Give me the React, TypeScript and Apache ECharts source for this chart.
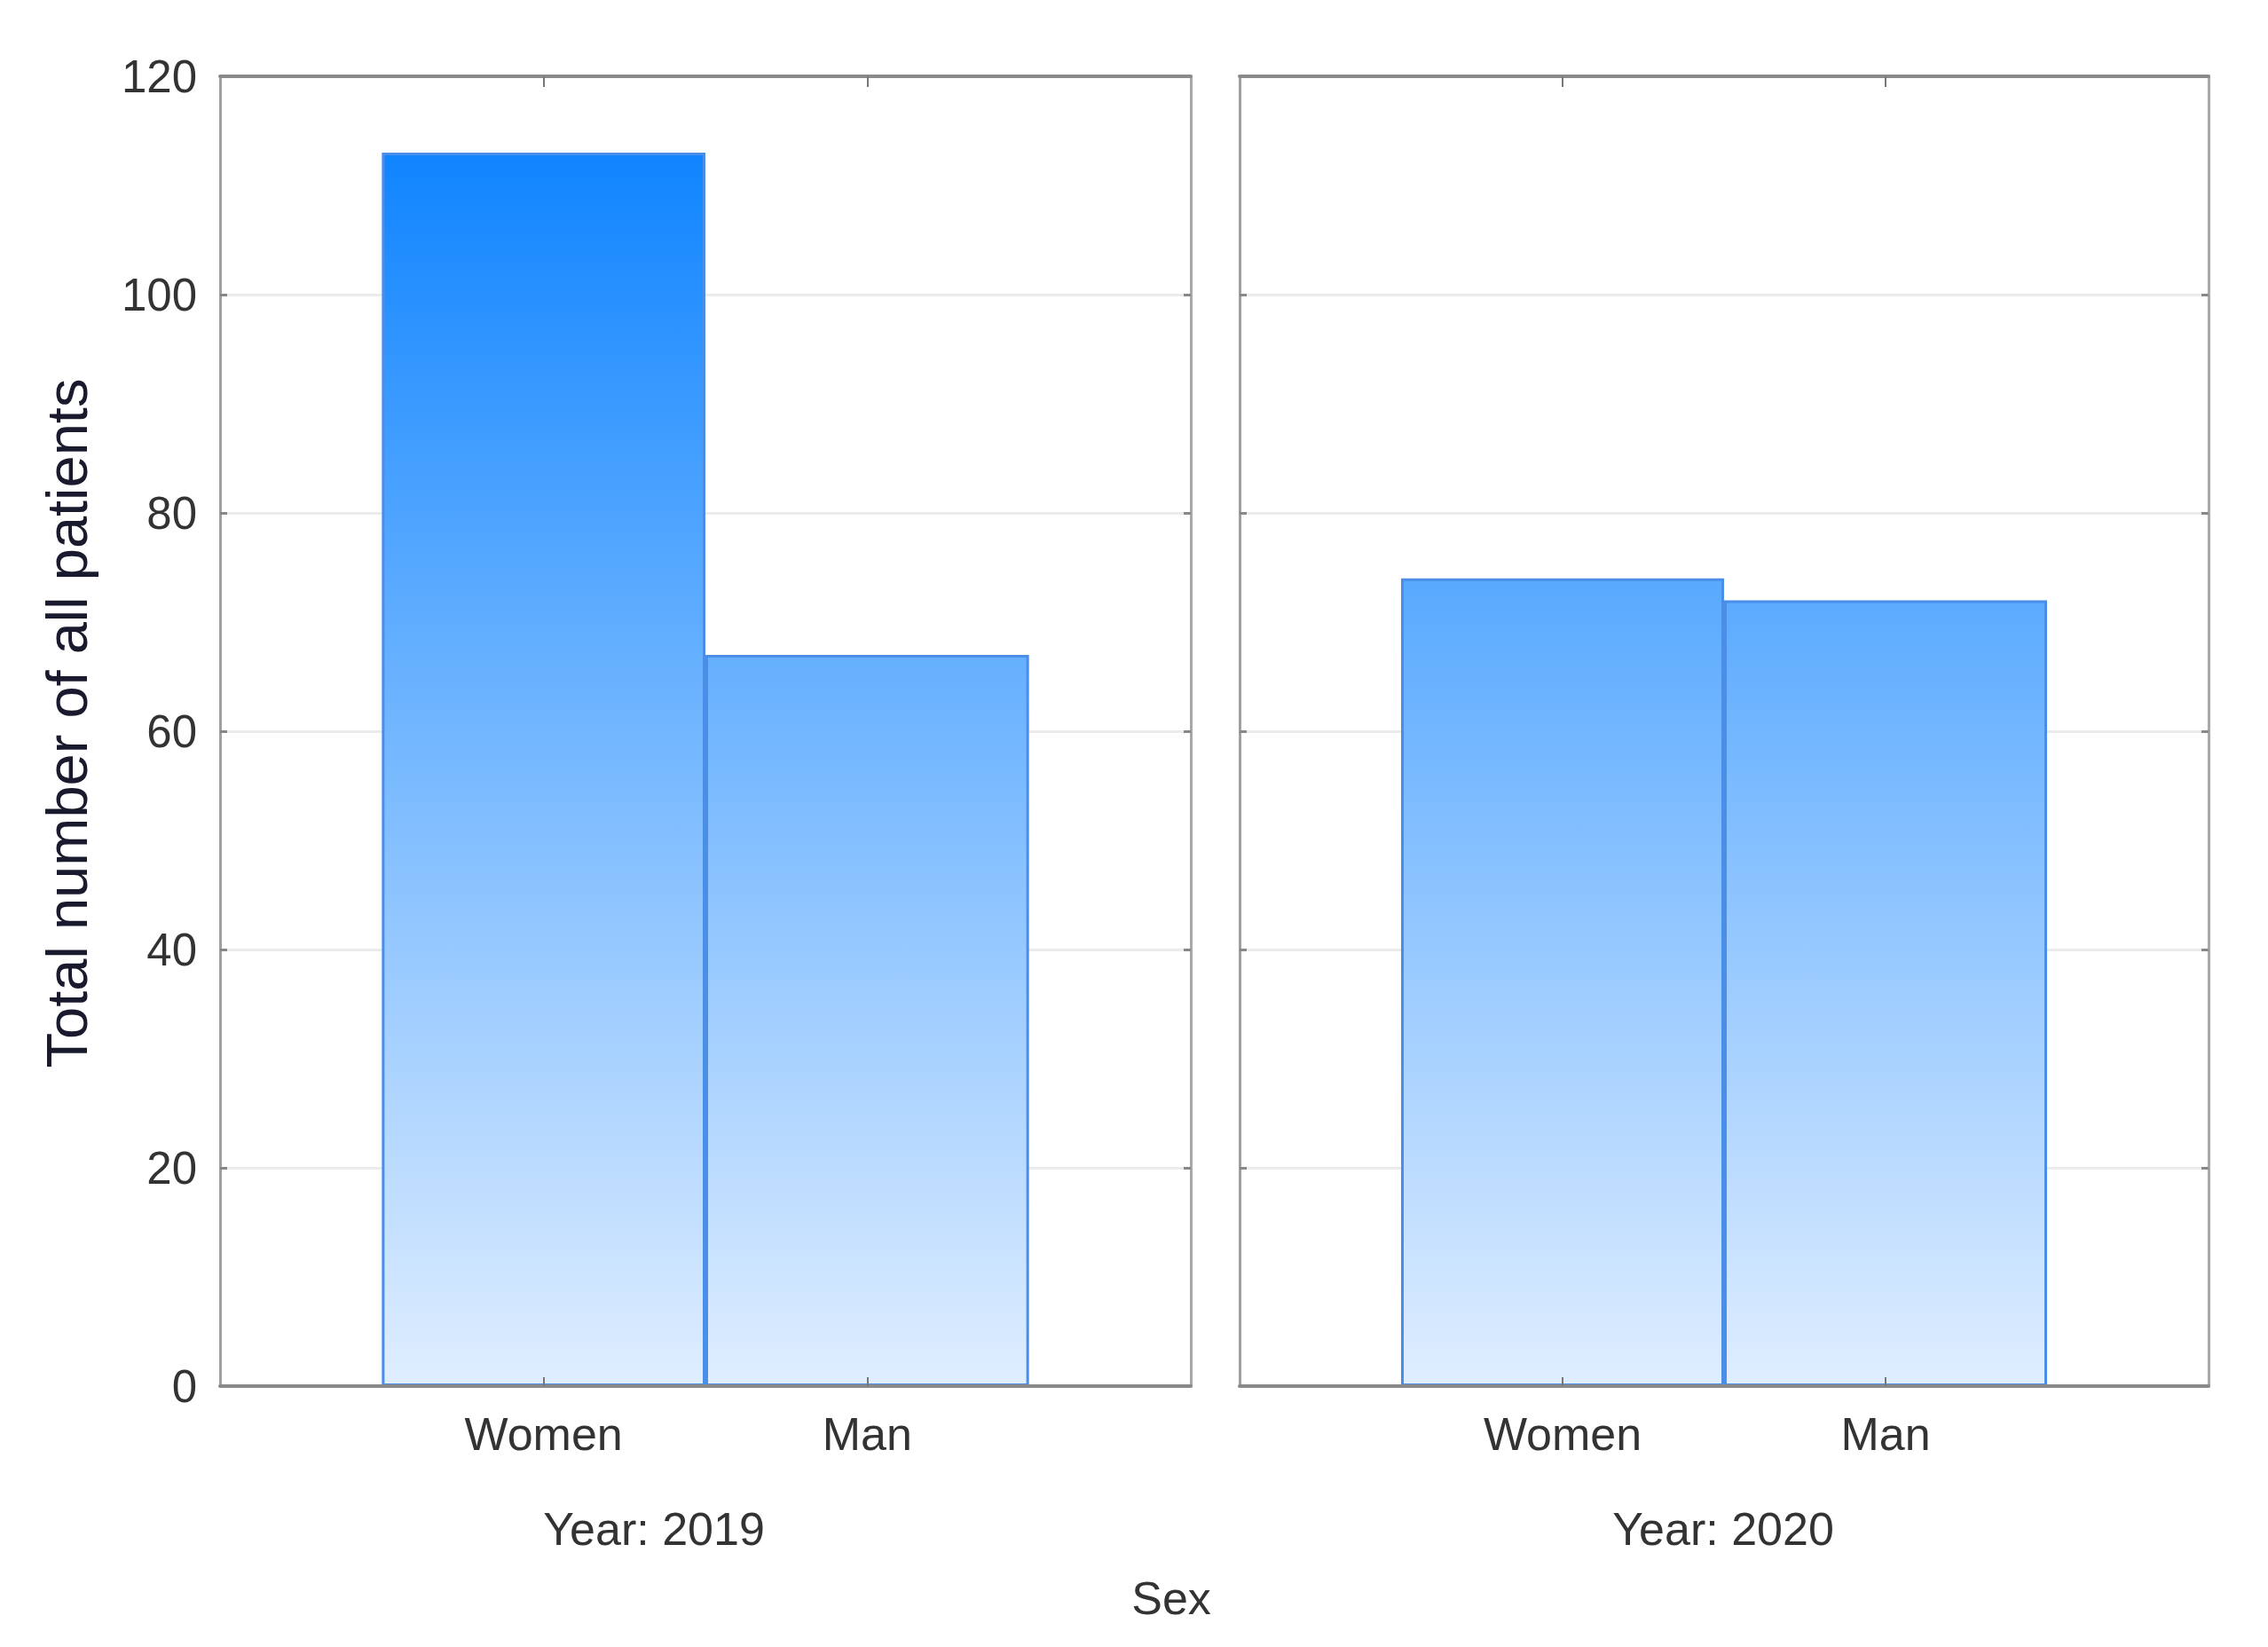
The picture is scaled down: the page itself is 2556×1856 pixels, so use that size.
import React, { useEffect, useRef } from "react";
import * as echarts from "echarts";

const categories = ["Women", "Man"];
const years = ["Year: 2019", "Year: 2020"];
const values2019 = [113, 67];
const values2020 = [74, 72];
const yTicks = [0, 20, 40, 60, 80, 100, 120];
const yTitle = "Total number of all patients";
const xTitle = "Sex";

const FONT = "'Liberation Sans', Arial, sans-serif";

export default function App() {
  const ref = useRef<HTMLDivElement>(null);
  useEffect(() => {
    if (!ref.current) return;
    const chart = echarts.init(ref.current, undefined, { renderer: "svg" });
    const top = 86;
    const height = 1476;
    const grids = [
      { left: 248, top, width: 1094, height },
      { left: 1397, top, width: 1092, height },
    ];
    const yMin = yTicks[0];
    const yMax = yTicks[yTicks.length - 1];
    const yInterval = yTicks[1] - yTicks[0];
    const grad = new echarts.graphic.LinearGradient(
      0,
      top,
      0,
      top + height,
      [
        { offset: 0, color: "#037eff" },
        { offset: 1, color: "#e0eeff" },
      ],
      true
    );
    const xAxes: any[] = [];
    const yAxes: any[] = [];
    const series: any[] = [];
    const panels = [values2019, values2020];
    grids.forEach((g, i) => {
      // bottom x axis
      xAxes.push({
        type: "value",
        gridIndex: i,
        min: 0,
        max: categories.length + 1,
        interval: 1,
        position: "bottom",
        z: 5,
        axisLine: { show: true, onZero: false, lineStyle: { color: "#8a8a8a", width: 4 } },
        axisTick: {
          show: true,
          inside: true,
          length: 10,
          customValues: categories.map((_, k) => k + 1),
          lineStyle: { color: "#777", width: 2 },
        },
        axisLabel: {
          show: true,
          customValues: categories.map((_, k) => k + 1),
          formatter: (v: number) => categories[v - 1] ?? "",
          fontSize: 52,
          fontFamily: FONT,
          color: "#333",
          margin: 28,
        },
        splitLine: { show: false },
      });
      // top x axis
      xAxes.push({
        type: "value",
        gridIndex: i,
        min: 0,
        max: categories.length + 1,
        interval: 1,
        position: "top",
        z: 5,
        axisLine: { show: true, onZero: false, lineStyle: { color: "#8a8a8a", width: 4 } },
        axisTick: {
          show: true,
          inside: true,
          length: 12,
          customValues: categories.map((_, k) => k + 1),
          lineStyle: { color: "#777", width: 2 },
        },
        axisLabel: { show: false },
        splitLine: { show: false },
      });
      // left y axis
      yAxes.push({
        type: "value",
        gridIndex: i,
        min: yMin,
        max: yMax,
        interval: yInterval,
        position: "left",
        axisLine: { show: true, onZero: false, lineStyle: { color: "#a0a0a0", width: 3 } },
        axisTick: { show: true, inside: true, length: 8, lineStyle: { color: "#888", width: 3 } },
        axisLabel: {
          show: i === 0,
          fontSize: 51,
          fontFamily: FONT,
          color: "#333",
          margin: 26,
        },
        splitLine: { show: true, lineStyle: { color: "#ebebeb", width: 3 } },
      });
      // right y axis
      yAxes.push({
        type: "value",
        gridIndex: i,
        min: yMin,
        max: yMax,
        interval: yInterval,
        position: "right",
        axisLine: { show: true, onZero: false, lineStyle: { color: "#a8a8a8", width: 3 } },
        axisTick: { show: true, inside: true, length: 8, lineStyle: { color: "#888", width: 3 } },
        axisLabel: { show: false },
        splitLine: { show: false },
      });
      series.push({
        type: "bar",
        xAxisIndex: i * 2,
        yAxisIndex: i * 2,
        barWidth: g.width / (categories.length + 1),
        data: panels[i].map((v, k) => [k + 1, v]),
        itemStyle: { color: grad, borderColor: "#4a8ee8", borderWidth: 3 },
        z: 2,
      });
    });

    const graphic: any[] = [
      {
        type: "text",
        x: 75,
        y: 815,
        rotation: Math.PI / 2,
        style: {
          text: yTitle,
          fontSize: 65,
          fontFamily: FONT,
          fill: "#1a1a2e",
          align: "center",
          verticalAlign: "middle",
        },
      },
      {
        type: "text",
        x: 737,
        y: 1723,
        style: { text: years[0], fontSize: 52, fontFamily: FONT, fill: "#333", align: "center", verticalAlign: "middle" },
      },
      {
        type: "text",
        x: 1942,
        y: 1723,
        style: { text: years[1], fontSize: 52, fontFamily: FONT, fill: "#333", align: "center", verticalAlign: "middle" },
      },
      {
        type: "text",
        x: 1320,
        y: 1801,
        style: { text: xTitle, fontSize: 52, fontFamily: FONT, fill: "#333", align: "center", verticalAlign: "middle" },
      },
    ];

    chart.setOption({
      animation: false,
      backgroundColor: "#ffffff",
      grid: grids,
      xAxis: xAxes,
      yAxis: yAxes,
      series,
      graphic,
    });
    return () => chart.dispose();
  }, []);
  return (
    <div
      ref={ref}
      style={{ position: "absolute", left: 0, top: 0, width: 2556, height: 1856 }}
    />
  );
}
